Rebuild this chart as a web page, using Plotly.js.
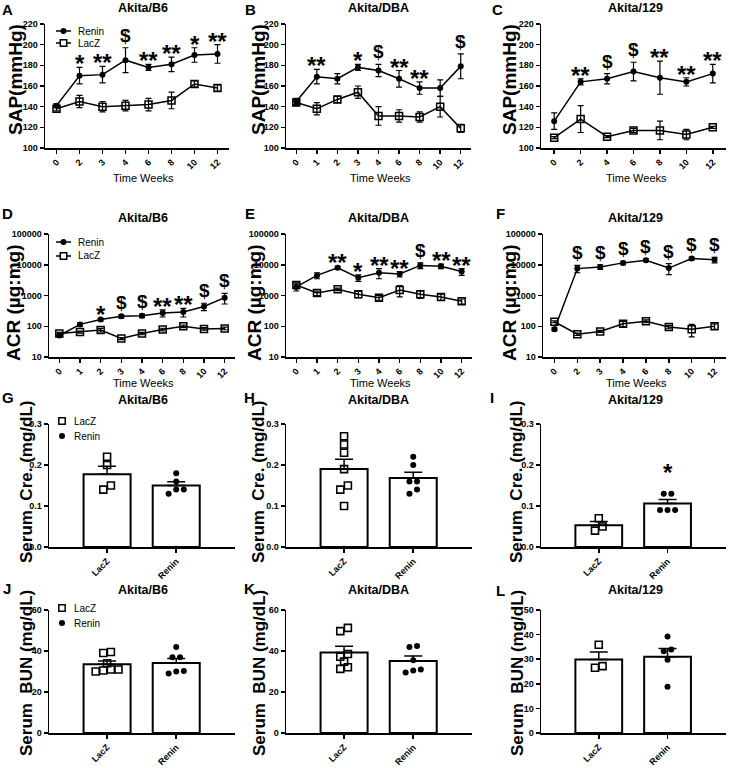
<!DOCTYPE html>
<html>
<head>
<meta charset="utf-8">
<script src="https://cdn.plot.ly/plotly-3.0.1.min.js"></script>
<style>
  body { margin: 0; background: #fff; }
  #fig { width: 729px; height: 768px; }
</style>
</head>
<body>
<div id="fig"></div>
<script>
// ---- SAP (mmHg) ----
var weeksA = ["0", "2", "3", "4", "6", "8", "10", "12"];
var sapReninA = [141, 170, 171, 185, 178, 181, 190, 191];
var sapReninErrA = [2, 8, 8, 12, 3, 7, 7, 9];
var sapLacZA = [138, 145, 140, 141, 142, 146, 162, 158];
var sapLacZErrA = [2, 6, 5, 5, 6, 8, 3, 3];
var sigA = ["", "*", "**", "$", "**", "**", "*", "**"];

var weeksB = ["0", "1", "2", "3", "4", "6", "8", "10", "12"];
var sapReninB = [145, 169, 167, 178, 175, 167, 158, 158, 179];
var sapReninErrB = [3, 7, 5, 3, 6, 8, 6, 8, 12];
var sapLacZB = [144, 138, 147, 154, 131, 131, 130, 140, 119];
var sapLacZErrB = [3, 6, 3, 6, 9, 6, 5, 10, 4];
var sigB = ["", "**", "", "*", "$", "**", "**", "", "$"];

var weeksC = ["0", "2", "4", "6", "8", "10", "12"];
var sapReninC = [126, 164, 167, 174, 168, 164, 172];
var sapReninErrC = [8, 3, 5, 9, 16, 4, 9];
var sapLacZC = [110, 128, 111, 117, 117, 113, 120];
var sapLacZErrC = [1, 13, 1, 2, 9, 5, 1];
var sigC = ["", "**", "$", "$", "**", "**", "**"];

// ---- ACR (ug:mg) ----
var weeksD = ["0", "1", "2", "3", "4", "6", "8", "10", "12"];
var acrReninD = [50, 115, 165, 210, 220, 270, 290, 440, 850];
var acrReninErrD = [5, 15, 15, 25, 30, 70, 90, 120, 320];
var acrLacZD = [58, 65, 75, 40, 58, 78, 100, 82, 85];
var acrLacZErrD = [5, 5, 10, 3, 5, 8, 10, 8, 8];
var sigD = ["", "", "*", "$", "$", "**", "**", "$", "$"];

var weeksE = ["0", "1", "2", "3", "4", "6", "8", "10", "12"];
var acrReninE = [1900, 4500, 8000, 3800, 5500, 5000, 9500, 9000, 6000];
var acrReninErrE = [500, 1000, 800, 900, 2000, 1000, 2000, 1500, 1500];
var acrLacZE = [2200, 1200, 1600, 1100, 850, 1500, 1100, 900, 650];
var acrLacZErrE = [400, 200, 150, 250, 150, 600, 300, 200, 120];
var sigE = ["", "", "**", "*", "**", "**", "$", "**", "**"];

var weeksF = ["0", "2", "3", "4", "6", "8", "10", "12"];
var acrReninF = [80, 7500, 8500, 11500, 14000, 7800, 16000, 14500];
var acrReninErrF = [8, 2000, 1500, 1500, 1500, 3000, 1500, 3000];
var acrLacZF = [140, 55, 68, 120, 145, 95, 80, 100];
var acrLacZErrF = [10, 5, 5, 25, 15, 12, 35, 20];
var sigF = ["", "$", "$", "$", "$", "$", "$", "$"];

// ---- serum creatinine (mg/dL), individual animals ----
var creLacZB6 = [0.22, 0.20, 0.15, 0.14];
var creReninB6 = [0.18, 0.16, 0.14, 0.14, 0.13];
var creLacZDBA = [0.27, 0.25, 0.23, 0.19, 0.15, 0.14, 0.10];
var creReninDBA = [0.22, 0.20, 0.16, 0.16, 0.14, 0.13];
var creLacZ129 = [0.07, 0.05, 0.04];
var creRenin129 = [0.13, 0.13, 0.09, 0.09, 0.09];

// ---- serum BUN (mg/dL), individual animals ----
var bunLacZB6 = [39.5, 39, 34, 31, 31, 30.5, 30];
var bunReninB6 = [42, 37, 37, 30.2, 30, 29];
var bunLacZDBA = [51.3, 49.7, 38.5, 37.2, 34.8, 32.1, 31.3];
var bunReninDBA = [42.5, 42, 35.5, 31, 30.5, 29.5];
var bunLacZ129 = [35.9, 27.2, 26.5];
var bunRenin129 = [39.2, 33.9, 33.2, 29.8, 18.8];

var groupLabels = ["LacZ", "Renin"];

var W = 729, H = 768;
var FONT = "Liberation Sans, Arial, sans-serif";
var data = [];
var annotations = [];
var shapes = [];
var layout = {
  width: W, height: H,
  margin: {l: 0, r: 0, t: 0, b: 0},
  paper_bgcolor: "#fff", plot_bgcolor: "rgba(0,0,0,0)",
  font: {family: FONT, color: "#000"},
  showlegend: false,
  annotations: annotations,
  shapes: shapes
};

function baseAxis() {
  return {
    showgrid: false, zeroline: false, showline: true, linecolor: "#000", linewidth: 1.5,
    ticks: "outside", ticklen: 4, tickwidth: 1.5, tickcolor: "#000",
    tickfont: {family: FONT, size: 9, weight: "bold", color: "#000"},
    fixedrange: true
  };
}

var nAx = 0;
function addAxes(xpx, ypx, xopts, yopts) {
  nAx++;
  var s = nAx === 1 ? "" : String(nAx);
  layout["xaxis" + s] = Object.assign(baseAxis(), {domain: [xpx[0] / W, xpx[1] / W], anchor: "y" + s}, xopts);
  layout["yaxis" + s] = Object.assign(baseAxis(), {domain: [1 - ypx[1] / H, 1 - ypx[0] / H], anchor: "x" + s}, yopts);
  return {x: "x" + s, y: "y" + s};
}

function linePanel(ax, cats, ren, renErr, lac, lacErr, sig, logY) {
  var errStyle = {type: "data", visible: true, color: "#000", thickness: 1.2, width: 3};
  data.push({
    type: "scatter", mode: "lines+markers", name: "LacZ", x: cats, y: lac,
    xaxis: ax.x, yaxis: ax.y, cliponaxis: false,
    error_y: Object.assign({array: lacErr}, errStyle),
    line: {color: "#000", width: 1.5},
    marker: {symbol: "square-open", size: 7, color: "#000", line: {width: 1.5, color: "#000"}}
  });
  data.push({
    type: "scatter", mode: "lines+markers", name: "Renin", x: cats, y: ren,
    xaxis: ax.x, yaxis: ax.y, cliponaxis: false,
    error_y: Object.assign({array: renErr}, errStyle),
    line: {color: "#000", width: 1.5},
    marker: {symbol: "circle", size: 6, color: "#000"}
  });
  sig.forEach(function (s, i) {
    if (!s) return;
    var top = ren[i] + renErr[i];
    // category axes take the index here (numeric-looking labels would be read as indices anyway)
    annotations.push({
      xref: ax.x, yref: ax.y, x: i, y: logY ? Math.log10(top) : top,
      text: s, showarrow: false, yanchor: "bottom",
      yshift: s === "$" ? 0 : -12,
      font: {family: FONT, size: s === "$" ? 19 : 24, weight: "bold", color: "#000"}
    });
  });
}

function mean(a) { return a.reduce(function (p, v) { return p + v; }, 0) / a.length; }
function sem(a) {
  var m = mean(a);
  var ss = a.reduce(function (p, v) { return p + (v - m) * (v - m); }, 0);
  return Math.sqrt(ss / (a.length - 1)) / Math.sqrt(a.length);
}
// spread points of near-equal value sideways, like a scatter-dot plot
function swarm(vals, thr) {
  var idx = vals.map(function (v, i) { return i; }).sort(function (a, b) { return vals[a] - vals[b]; });
  var off = vals.map(function () { return 0; });
  var i = 0;
  while (i < idx.length) {
    var j = i;
    while (j + 1 < idx.length && vals[idx[j + 1]] - vals[idx[i]] < thr) j++;
    var k = j - i + 1;
    for (var m = 0; m < k; m++) off[idx[i + m]] = (m - (k - 1) / 2) * 0.11;
    i = j + 1;
  }
  return off;
}

function barPanel(ax, lac, ren, ymax, starRenin) {
  var groups = [lac, ren];
  data.push({
    type: "bar", x: [0, 1], y: groups.map(mean), width: 0.68,
    xaxis: ax.x, yaxis: ax.y, hoverinfo: "skip",
    marker: {color: "#fff", line: {color: "#000", width: 2}},
    error_y: {type: "data", symmetric: false, array: groups.map(sem), arrayminus: [0, 0],
              color: "#000", thickness: 1.5, width: 9}
  });
  groups.forEach(function (g, gi) {
    var off = swarm(g, ymax * 0.04);
    data.push({
      type: "scatter", mode: "markers", name: groupLabels[gi],
      x: g.map(function (v, i) { return gi + off[i]; }), y: g,
      xaxis: ax.x, yaxis: ax.y, cliponaxis: false,
      marker: gi === 0
        ? {symbol: "square-open", size: 7, color: "#000", line: {width: 1.6, color: "#000"}}
        : {symbol: "circle", size: 6, color: "#000"}
    });
  });
  if (starRenin) {
    annotations.push({
      xref: ax.x, yref: ax.y, x: 1, y: Math.max.apply(null, ren), text: starRenin,
      showarrow: false, yanchor: "bottom", yshift: 6,
      font: {family: FONT, size: 24, weight: "bold", color: "#000"}
    });
  }
}

function catAxis(cats) { return {type: "category", categoryorder: "array", categoryarray: cats, range: [-0.5, cats.length - 0.5], tickangle: -45}; }
var sapY = {range: [100, 220], dtick: 20, tick0: 100};
var acrY = {type: "log", range: [1, 5], tickvals: [10, 100, 1000, 10000, 100000], ticktext: ["10", "100", "1000", "10000", "100000"]};
var barX = {range: [-0.84, 1.85], tickvals: [0, 1], ticktext: groupLabels, tickangle: -45};

var row1 = [24, 148], row2 = [234, 357], row3 = [424, 547], row4 = [610, 733];

linePanel(addAxes([45, 229], row1, catAxis(weeksA), sapY), weeksA, sapReninA, sapReninErrA, sapLacZA, sapLacZErrA, sigA, false);
linePanel(addAxes([286, 471], row1, catAxis(weeksB), sapY), weeksB, sapReninB, sapReninErrB, sapLacZB, sapLacZErrB, sigB, false);
linePanel(addAxes([541, 726], row1, catAxis(weeksC), sapY), weeksC, sapReninC, sapReninErrC, sapLacZC, sapLacZErrC, sigC, false);

linePanel(addAxes([49, 235], row2, catAxis(weeksD), acrY), weeksD, acrReninD, acrReninErrD, acrLacZD, acrLacZErrD, sigD, true);
linePanel(addAxes([286, 472], row2, catAxis(weeksE), acrY), weeksE, acrReninE, acrReninErrE, acrLacZE, acrLacZErrE, sigE, true);
linePanel(addAxes([543, 726], row2, catAxis(weeksF), acrY), weeksF, acrReninF, acrReninErrF, acrLacZF, acrLacZErrF, sigF, true);

var creY = {range: [0, 0.3], dtick: 0.1, tickformat: ".1f"};
barPanel(addAxes([49, 235], row3, barX, creY), creLacZB6, creReninB6, 0.3, "");
barPanel(addAxes([286, 472], row3, barX, creY), creLacZDBA, creReninDBA, 0.3, "");
barPanel(addAxes([541, 726], row3, barX, creY), creLacZ129, creRenin129, 0.3, "*");

barPanel(addAxes([49, 235], row4, barX, {range: [0, 60], dtick: 20}), bunLacZB6, bunReninB6, 60, "");
barPanel(addAxes([286, 472], row4, barX, {range: [0, 60], dtick: 20}), bunLacZDBA, bunReninDBA, 60, "");
barPanel(addAxes([541, 726], row4, barX, {range: [0, 50], dtick: 10}), bunLacZ129, bunRenin129, 50, "");

function paperText(text, x, y, size, opts) {
  annotations.push(Object.assign({
    xref: "paper", yref: "paper", x: x / W, y: 1 - y / H, text: text, showarrow: false,
    xanchor: "center", yanchor: "middle",
    font: {family: FONT, size: size, weight: "bold", color: "#000"}
  }, opts || {}));
}
function legendText(text, x, y) {
  paperText(text, x, y, 10, {xanchor: "left", font: {family: FONT, size: 10, color: "#000"}});
}
function pBox(cx, cy, r) { return {x0: (cx - r) / W, x1: (cx + r) / W, y0: 1 - (cy + r) / H, y1: 1 - (cy - r) / H}; }
function keyCircle(cx, cy) {
  shapes.push(Object.assign({type: "circle", xref: "paper", yref: "paper", fillcolor: "#000", line: {color: "#000", width: 0}}, pBox(cx, cy, 3)));
}
function keySquare(cx, cy) {
  shapes.push(Object.assign({type: "rect", xref: "paper", yref: "paper", fillcolor: "#fff", line: {color: "#000", width: 1.5}}, pBox(cx, cy, 3.2)));
}
function keyLine(x0, x1, y) {
  shapes.push({type: "line", xref: "paper", yref: "paper", x0: x0 / W, x1: x1 / W, y0: 1 - y / H, y1: 1 - y / H, line: {color: "#000", width: 1.5}});
}
// legends: line keys for the time courses, dot keys for the scatter-bar panels
[[31, 43], [242, 256]].forEach(function (r) {
  keyLine(56, 71, r[0]); keyCircle(63.5, r[0]); legendText("Renin", 76, r[0]);
  keyLine(56, 71, r[1]); keySquare(63.5, r[1]); legendText("LacZ", 76, r[1]);
});
[[421, 436], [608, 623]].forEach(function (r) {
  keySquare(62, r[0]); legendText("LacZ", 72, r[0]);
  keyCircle(62, r[1]); legendText("Renin", 72, r[1]);
});

// panel letters
[["A", 8, 9], ["B", 250, 9], ["C", 497, 9],
 ["D", 8, 214], ["E", 250, 214], ["F", 500, 214],
 ["G", 8, 397], ["H", 249, 397], ["I", 492, 397],
 ["J", 7, 588], ["K", 249, 588], ["L", 500, 590]].forEach(function (l) { paperText(l[0], l[1], l[2], 15); });

// panel titles
var strains = ["Akita/B6", "Akita/DBA", "Akita/129"];
var titleX = [143, 378, 635];
[8, 218, 400, 590].forEach(function (ty) {
  strains.forEach(function (s, i) { paperText(s, titleX[i], ty, 12.5); });
});

// y-axis titles
[[16, 259, 510].map(function (x) { return [x, 80, "SAP(mmHg)", 19]; }),
 [13, 254, 509].map(function (x) { return [x, 303, "ACR (\u00b5g:mg)", 19]; }),
 [26, 258, 516].map(function (x) { return [x, 482, "Serum&nbsp; Cre. (mg/dL)", 17]; }),
 [26, 259, 517].map(function (x) { return [x, 673, "Serum&nbsp; BUN (mg/dL)", 17]; })
].forEach(function (row) {
  row.forEach(function (t) { paperText(t[2], t[0], t[1], t[3], {textangle: -90}); });
});

// x-axis titles
[178, 383].forEach(function (ty) {
  [143, 380, 636].forEach(function (x) {
    paperText("Time Weeks", x, ty, 11, {font: {family: FONT, size: 11, color: "#000"}});
  });
});

Plotly.newPlot("fig", data, layout, {staticPlot: true});
</script>
</body>
</html>
